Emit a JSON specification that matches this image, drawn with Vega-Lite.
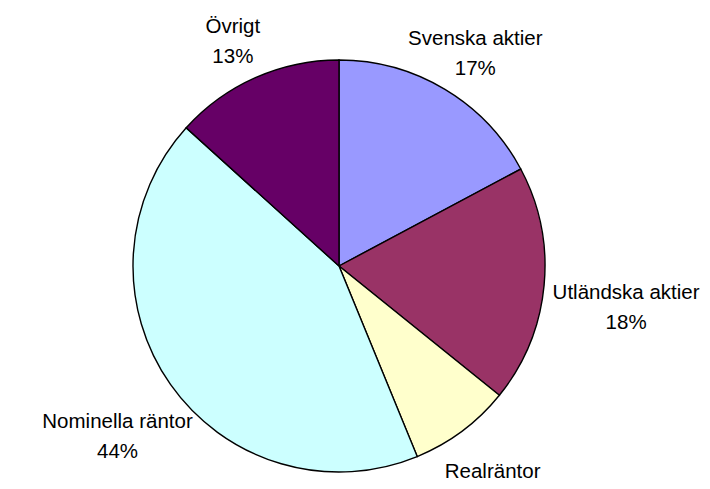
{
  "$schema": "https://vega.github.io/schema/vega-lite/v6.json",
  "autosize": "none",
  "width": 678,
  "height": 532,
  "padding": {"left": 0, "top": 0, "right": 40, "bottom": 0},
  "background": "white",
  "data": {
    "values": [
      {"idx": 1, "category": "Svenska aktier", "share": 17.2, "pct": "17%"},
      {"idx": 2, "category": "Utländska aktier", "share": 18.6, "pct": "18%"},
      {"idx": 3, "category": "Realräntor", "share": 8.0, "pct": "8%"},
      {"idx": 4, "category": "Nominella räntor", "share": 42.9, "pct": "44%"},
      {"idx": 5, "category": "Övrigt", "share": 13.3, "pct": "13%"}
    ]
  },
  "transform": [
    {"calculate": "datum.category + '\\n' + datum.pct", "as": "label"}
  ],
  "encoding": {
    "theta": {"field": "share", "type": "quantitative", "stack": true},
    "order": {"field": "idx", "type": "quantitative"}
  },
  "layer": [
    {
      "mark": {"type": "arc", "outerRadius": 206, "stroke": "black", "strokeWidth": 1.4},
      "encoding": {
        "color": {
          "field": "category",
          "type": "nominal",
          "scale": {
            "domain": ["Svenska aktier", "Utländska aktier", "Realräntor", "Nominella räntor", "Övrigt"],
            "range": ["#9999FF", "#993366", "#FFFFCC", "#CCFFFF", "#660066"]
          },
          "legend": null
        }
      }
    },
    {
      "mark": {
        "type": "text",
        "radius": {"expr": "256 + 34 * pow(sin(PI * (datum.share_start + datum.share_end) / 100), 2) - 14 * max(0, -cos(PI * (datum.share_start + datum.share_end) / 100))"},
        "font": "Liberation Sans",
        "fontSize": 20.5,
        "lineHeight": 30,
        "lineBreak": "\n",
        "align": "center",
        "baseline": "middle",
        "color": "black"
      },
      "encoding": {
        "text": {"field": "label", "type": "nominal"}
      }
    }
  ]
}
